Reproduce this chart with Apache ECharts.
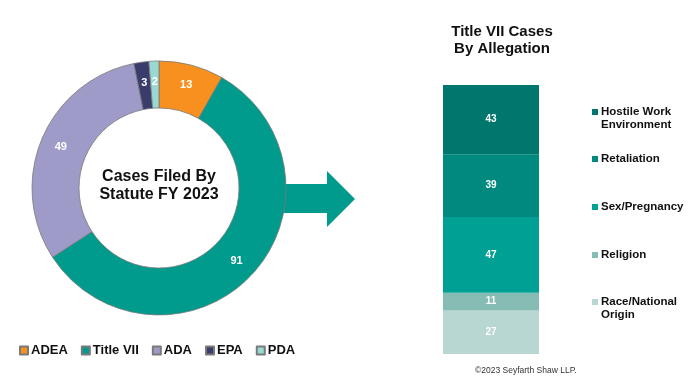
<!DOCTYPE html>
<html>
<head>
<meta charset="utf-8">
<script src="https://cdn.jsdelivr.net/npm/echarts@6/dist/echarts.min.js"></script>
<style>html,body{margin:0;padding:0;background:#fff}#c{width:692px;height:381px}</style>
</head>
<body>
<div id="c"></div>
<script>
// Donut: cases filed by statute
const statuteNames = ['ADEA', 'Title VII', 'ADA', 'EPA', 'PDA'];
const statuteValues = [13, 91, 49, 3, 2];
const statuteColors = ['#F7901E', '#009B8D', '#9E9BC8', '#3A3D6B', '#9AD8D3'];

// Stacked bar: Title VII by allegation (bottom to top)
const allegationNames = ['Race/National Origin', 'Religion', 'Sex/Pregnancy', 'Retaliation', 'Hostile Work Environment'];
const allegationValues = [27, 11, 47, 39, 43];
const allegationColors = ['#B8D6D2', '#87BCB4', '#00A194', '#00897E', '#00776C'];
const allegationLegendText = ['Race/National\nOrigin', 'Religion', 'Sex/Pregnancy', 'Retaliation', 'Hostile Work\nEnvironment'];

const FONT = 'Arial, "Liberation Sans", sans-serif';
const chart = echarts.init(document.getElementById('c'), null, {renderer: 'canvas'});

const total = allegationValues.reduce((a, b) => a + b, 0);

const barSeries = allegationNames.map((n, i) => ({
  name: n,
  type: 'bar',
  stack: 'all',
  xAxisIndex: 0, yAxisIndex: 0,
  barWidth: '100%',
  data: [allegationValues[i]],
  itemStyle: {color: allegationColors[i]},
  label: {show: true, position: 'inside', color: '#fff', fontWeight: 'bold', fontSize: 10, fontFamily: FONT},
  emphasis: {disabled: true}
}));

const twoLineIcon = 'path://M0,0H6V6H0Z M0,19H0.001V19.001H0Z';
const legendTops = [295.5, 248.5, 200.5, 152.5, 105.5];
const barLegends = allegationNames.map((n, i) => ({
  data: [n],
  left: 592,
  top: legendTops[i],
  padding: 0,
  orient: 'vertical',
  itemWidth: 6,
  itemHeight: allegationLegendText[i].includes('\n') ? 19 : 6,
  icon: allegationLegendText[i].includes('\n') ? twoLineIcon : 'rect',
  selectedMode: false,
  formatter: () => allegationLegendText[i],
  textStyle: {fontSize: 11.5, fontWeight: 'bold', color: '#111', fontFamily: FONT, lineHeight: 13, padding: [0, 0, 0, -2]}
}));

chart.setOption({
  animation: false,
  backgroundColor: '#fff',
  grid: {left: 443, width: 96, top: 85, height: 269},
  xAxis: {type: 'category', data: ['Title VII'], show: false},
  yAxis: {type: 'value', min: 0, max: total, show: false},
  legend: [
    {
      data: statuteNames,
      left: 19,
      top: 344,
      padding: 0,
      icon: 'rect',
      itemWidth: 8,
      itemHeight: 8,
      itemGap: 13,
      selectedMode: false,
      textStyle: {fontSize: 13, fontWeight: 'bold', color: '#111', fontFamily: FONT, padding: [0, 0, 0, -2]}
    }
  ].concat(barLegends),
  graphic: [
    {
      type: 'polygon', z: -1, zlevel: 0,
      shape: {points: [[270, 184], [327, 184], [327, 171], [355, 199], [327, 227], [327, 213], [270, 213]]},
      style: {fill: '#009B8D'}
    },
    {
      type: 'text', z: 100,
      style: {x: 159, y: 186, text: 'Cases Filed By\nStatute FY 2023', textAlign: 'center', textVerticalAlign: 'middle',
        font: 'bold 16px ' + FONT, lineHeight: 18, fill: '#111'}
    },
    {
      type: 'text', z: 100,
      style: {x: 502, y: 40, text: 'Title VII Cases\nBy Allegation', textAlign: 'center', textVerticalAlign: 'middle',
        font: 'bold 15px ' + FONT, lineHeight: 17, fill: '#111'}
    },
    {
      type: 'text', z: 100,
      style: {x: 475, y: 371, text: '©2023 Seyfarth Shaw LLP.', textAlign: 'left', textVerticalAlign: 'middle',
        font: '8.5px ' + FONT, fill: '#333'}
    }
  ],
  series: [
    {
      type: 'pie',
      center: [159, 188],
      radius: [80, 127],
      startAngle: 90,
      clockwise: true,
      avoidLabelOverlap: false,
      data: statuteNames.map((n, i) => ({name: n, value: statuteValues[i], itemStyle: {color: statuteColors[i]}})),
      itemStyle: {borderColor: '#7a7a7a', borderWidth: 0.8},
      label: {show: true, position: 'inside', color: '#fff', fontWeight: 'bold', fontSize: 11, fontFamily: FONT, formatter: '{c}'},
      labelLine: {show: false},
      emphasis: {disabled: true}
    }
  ].concat(barSeries)
});
</script>
</body>
</html>
